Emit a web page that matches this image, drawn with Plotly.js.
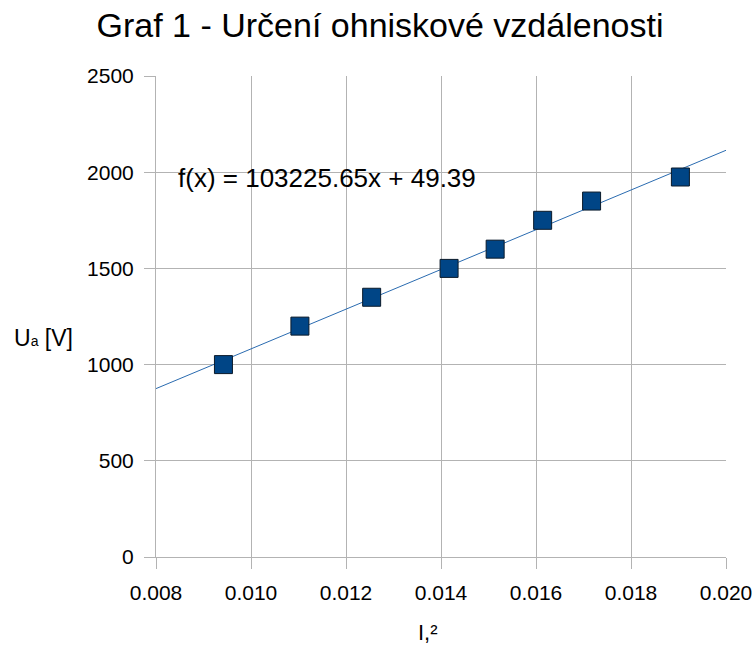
<!DOCTYPE html>
<html>
<head>
<meta charset="utf-8">
<script src="https://cdn.plot.ly/plotly-3.0.1.min.js"></script>
<style>html,body{margin:0;padding:0;background:#fff;}</style>
</head>
<body>
<div id="chart" style="width:754px;height:650px;"></div>
<script>
// Data
const currentSq = [0.00942, 0.01103, 0.01254, 0.01417, 0.01514, 0.01614, 0.01717, 0.01904];
const voltage   = [1000, 1200, 1350, 1500, 1600, 1750, 1850, 1975];
// Trend line shown on the chart: f(x) = slope*x + intercept
const slope = 103225.65;
const intercept = 49.39;
const trendX = [0.008, 0.020];
const trendY = trendX.map(x => slope * x + intercept);

const xTickVals = [0.008, 0.010, 0.012, 0.014, 0.016, 0.018, 0.020];
const xTickText = ['0.008', '0.010', '0.012', '0.014', '0.016', '0.018', '0.020'];
const yTickVals = [0, 500, 1000, 1500, 2000, 2500];

const titleText = 'Graf 1 - Určení ohniskové vzdálenosti';
const xTitle = 'I,²';
const yTitle = 'U<span style="font-size:14px">a</span> [V]';
const eqText = 'f(x) = ' + slope.toFixed(2) + 'x + ' + intercept.toFixed(2);

const font = 'Liberation Sans, Arial, sans-serif';
const gridColor = '#b3b3b3';

const traces = [
  {
    x: trendX, y: trendY, type: 'scatter', mode: 'lines',
    line: {color: '#2a6bb0', width: 1}, hoverinfo: 'skip', showlegend: false
  },
  {
    x: currentSq, y: voltage, type: 'scatter', mode: 'markers',
    marker: {symbol: 'square', size: 18, color: '#004586', line: {color: '#0a1a2a', width: 1}},
    showlegend: false
  }
];

const layout = {
  width: 754, height: 650,
  margin: {l: 156, r: 28, t: 76, b: 93},
  paper_bgcolor: '#fff', plot_bgcolor: '#fff',
  font: {family: font, color: '#000', size: 21},
  title: {text: titleText, font: {size: 34, family: font, color: '#000'},
          xref: 'container', x: 0.504, xanchor: 'center', yref: 'container', y: 0.962, yanchor: 'middle'},
  xaxis: {
    range: [0.008, 0.020], tickmode: 'array', tickvals: xTickVals, ticktext: xTickText,
    showgrid: true, gridcolor: gridColor, gridwidth: 1,
    showline: true, linecolor: gridColor, linewidth: 1,
    ticks: 'outside', ticklen: 11, tickcolor: gridColor, ticklabelstandoff: 6,
    zeroline: false, tickfont: {size: 21, family: font, color: '#000'}
  },
  yaxis: {
    range: [0, 2500], tickmode: 'array', tickvals: yTickVals,
    showgrid: true, gridcolor: gridColor, gridwidth: 1,
    showline: true, linecolor: gridColor, linewidth: 1,
    ticks: 'outside', ticklen: 11, tickcolor: gridColor, ticklabelstandoff: 6,
    zeroline: false, tickfont: {size: 21, family: font, color: '#000'}
  },
  annotations: [
    {text: eqText, xref: 'paper', yref: 'paper', x: 0.0346, y: 0.788,
     xanchor: 'left', yanchor: 'middle', showarrow: false,
     font: {size: 26, family: font, color: '#000'}},
    {text: yTitle, xref: 'paper', yref: 'paper',
     x: -0.198, y: 0.456, xanchor: 'center', yanchor: 'middle', showarrow: false,
     font: {size: 23, family: font, color: '#000'}},
    {text: xTitle, xref: 'paper', yref: 'paper',
     x: 0.477, y: -0.156, xanchor: 'center', yanchor: 'middle', showarrow: false,
     font: {size: 22, family: font, color: '#000'}}
  ]
};

Plotly.newPlot('chart', traces, layout, {displayModeBar: false, staticPlot: true});
</script>
</body>
</html>
